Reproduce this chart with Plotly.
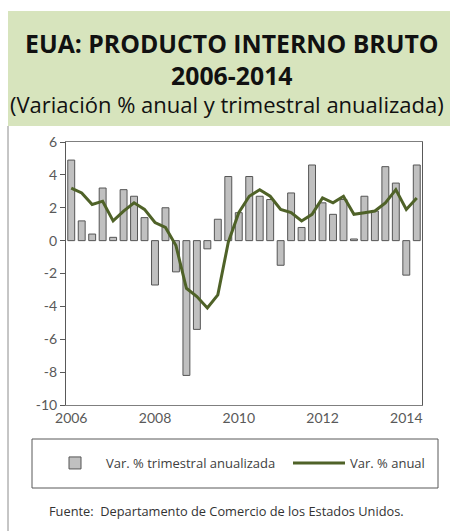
import plotly.graph_objects as go

years = list(range(2006, 2015))
quarters = []
for y in years:
    for q in range(1, 5):
        if y == 2014 and q > 2:
            break
        quarters.append(f"{y}-T{q}")

trimestral_anualizada = [
    4.9, 1.2, 0.4, 3.2,
    0.2, 3.1, 2.7, 1.4,
    -2.7, 2.0, -1.9, -8.2,
    -5.4, -0.5, 1.3, 3.9,
    1.7, 3.9, 2.7, 2.5,
    -1.5, 2.9, 0.8, 4.6,
    2.3, 1.6, 2.5, 0.1,
    2.7, 1.8, 4.5, 3.5,
    -2.1, 4.6,
]

anual = [
    3.2, 2.9, 2.2, 2.4,
    1.2, 1.8, 2.3, 1.9,
    1.1, 0.8, -0.3, -2.9,
    -3.4, -4.1, -3.3, -0.1,
    1.7, 2.7, 3.1, 2.7,
    1.9, 1.7, 1.2, 1.6,
    2.6, 2.3, 2.7, 1.6,
    1.7, 1.8, 2.3, 3.1,
    1.9, 2.6,
]

y_ticks = [-10, -8, -6, -4, -2, 0, 2, 4, 6]
y_ticktext = [str(v) for v in y_ticks]
x_label_idx = [0, 8, 16, 24, 32]
x_ticktext = ["2006", "2008", "2010", "2012", "2014"]

W, H = 450, 531
FONT = "Lato"
TFONT = "Open Sans"

def px_x(p):
    return p / W

def px_y(p):
    return 1 - p / H

x0, x1 = px_x(66), px_x(422)
y_top, y_bot = px_y(142), px_y(405)
zero_pos = y_bot + (0 - (-10)) / 16 * (y_top - y_bot)

fig = go.Figure()
fig.add_trace(go.Bar(
    x=quarters, y=trimestral_anualizada,
    name="Var. % trimestral anualizada",
    marker=dict(color="#c0c0c0", line=dict(color="#555555", width=1)),
    legend="legend",
))
fig.add_trace(go.Scatter(
    x=quarters, y=anual, mode="lines",
    name="Var. % anual",
    line=dict(color="#4f6228", width=3),
    legend="legend2",
))

legend_common = dict(
    orientation="h", yanchor="middle", xanchor="left",
    font=dict(size=13, color="#404040", family=TFONT),
    bgcolor="rgba(0,0,0,0)", borderwidth=0, itemwidth=52,
)

fig.update_layout(
    template="none",
    width=W, height=H, autosize=False,
    margin=dict(l=0, r=0, t=0, b=0, pad=0, autoexpand=False),
    paper_bgcolor="white", plot_bgcolor="white",
    font=dict(family=FONT, color="#595959"),
    bargap=0.34,
    showlegend=True,
    legend=dict(x=px_x(44), y=px_y(463), **legend_common),
    legend2=dict(x=px_x(288), y=px_y(463), **legend_common),
    xaxis=dict(
        domain=[x0, x1], type="category", automargin=False,
        tickmode="array", tickvals=[quarters[i] for i in x_label_idx], ticktext=x_ticktext,
        ticks="", showgrid=False, showline=True, linecolor="#7f7f7f", linewidth=1, mirror=True,
        zeroline=False, tickfont=dict(size=14, color="#595959"),
    ),
    yaxis=dict(
        domain=[y_bot, y_top], range=[-10, 6], automargin=False,
        tickmode="array", tickvals=y_ticks, ticktext=y_ticktext,
        ticks="outside", ticklen=5, tickcolor="#595959", tickwidth=1,
        showgrid=False, showline=True, linecolor="#595959", linewidth=1, mirror=True,
        zeroline=False, tickfont=dict(size=14, color="#595959"),
    ),
    xaxis2=dict(
        domain=[x0, x1], overlaying="x", anchor="free", position=zero_pos, automargin=False,
        range=[-0.5, len(quarters) - 0.5], tickmode="linear", tick0=0.5, dtick=1,
        ticks="outside", ticklen=5, tickcolor="#595959", tickwidth=1,
        showticklabels=False, showgrid=False, zeroline=False,
        showline=True, linecolor="#404040", linewidth=1,
    ),
)

# Header band and frame
fig.add_shape(type="rect", xref="paper", yref="paper",
              x0=px_x(8), x1=1, y0=px_y(126), y1=px_y(11),
              fillcolor="#d7e4bd", line=dict(width=0), layer="below")
fig.add_shape(type="line", xref="paper", yref="paper",
              x0=px_x(8), x1=px_x(8), y0=0, y1=px_y(126),
              line=dict(color="#8c8c8c", width=1))
# Legend box
fig.add_shape(type="rect", xref="paper", yref="paper",
              x0=px_x(32), x1=px_x(438), y0=px_y(488), y1=px_y(439),
              line=dict(color="#595959", width=1), fillcolor="rgba(0,0,0,0)")

fig.add_annotation(text="<b>EUA: PRODUCTO INTERNO BRUTO<br>2006-2014</b>", xref="paper", yref="paper",
                   x=px_x(232), y=px_y(58.5), showarrow=False, xanchor="center", yanchor="middle",
                   align="center",
                   font=dict(size=24.8, color="#111111", family=TFONT))
fig.add_annotation(text="(Variación % anual y trimestral anualizada)", xref="paper", yref="paper",
                   x=px_x(227), y=px_y(104), showarrow=False, xanchor="center", yanchor="middle",
                   font=dict(size=22, color="#111111", family=TFONT))
fig.add_annotation(text="Fuente:  Departamento de Comercio de los Estados Unidos.", xref="paper", yref="paper",
                   x=px_x(47), y=px_y(511), showarrow=False, xanchor="left", yanchor="middle",
                   font=dict(size=12.8, color="#333333", family=TFONT))

fig.write_html(
    "out.html",
    config={"displayModeBar": False},
    post_script="document.body.style.margin='0';document.body.style.overflow='hidden';",
)
